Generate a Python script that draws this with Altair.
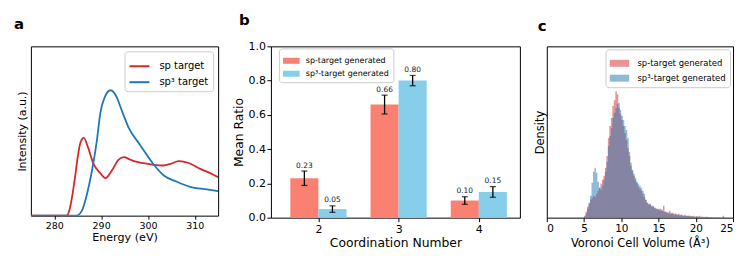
import altair as alt
import numpy as np
import pandas as pd

FONT = "DejaVu Sans"
RED = "#d62728"
BLUE = "#1f77b4"
SALMON = "#fa8072"
SKY = "#87ceeb"
RECT = "M-1,-0.36L1,-0.36L1,0.36L-1,0.36Z"

# ---------------- panel a: spectra ----------------
series_a = ["sp target", "sp³ target"]
red_energy = [275, 282.6, 283.2, 283.8, 284.4, 284.9, 285.6, 286.3, 287.2, 288.4, 289.8,
              290.9, 292.3, 293.7, 294.9, 296.0, 297.0, 299.1, 301.2, 303.4, 304.8, 306.6,
              308.7, 311.2, 313.3, 315]
red_intensity = [0, 0, 0.04, 0.15, 0.30, 0.44, 0.585, 0.62, 0.545, 0.41, 0.34,
                 0.30, 0.36, 0.445, 0.466, 0.45, 0.435, 0.418, 0.405, 0.40, 0.413, 0.434,
                 0.42, 0.373, 0.339, 0.307]
blue_energy = [275, 284.7, 285.9, 287.0, 288.05, 289.1, 289.8, 290.9, 292.0, 293.4, 294.2,
               295.9, 298.4, 301.2, 303.4, 306.2, 309.0, 312.6, 315]
blue_intensity = [0, 0, 0.04, 0.175, 0.36, 0.60, 0.81, 0.955, 1.0, 0.94, 0.86,
                  0.70, 0.56, 0.41, 0.32, 0.27, 0.23, 0.21, 0.196]

# ---------------- panel b: coordination ----------------
series_b = ["sp-target generated", "sp³-target generated"]
coord = [2, 3, 4]
sp_mean = [0.23, 0.66, 0.10]
sp_err = [0.042, 0.055, 0.022]
sp3_mean = [0.05, 0.80, 0.15]
sp3_err = [0.019, 0.030, 0.031]

# ---------------- panel c: Voronoi histogram ----------------
series_c = ["sp-target generated", "sp³-target generated"]
bin_start = 4.8
bin_width = 0.2
sp_hist = [0, 2, 6, 11, 15, 18, 20, 22, 21, 24, 27, 30, 34, 38, 42, 50, 62, 80, 92, 100,
           112, 118, 127, 124, 110, 104, 98, 92, 85, 78, 70, 62, 52, 47, 42, 38, 35, 31, 29, 27,
           24, 21, 18, 15, 14, 13, 12, 11, 10, 9, 9, 8, 9, 7, 12, 6, 6, 5, 7, 4,
           5, 4, 4, 3, 4, 3, 3, 2, 3, 2, 2, 2, 2, 1.5, 2, 1, 1.5, 1, 2, 1,
           1, 0.5, 1, 0.5, 0.5, 0.5, 0.5, 0, 0.5, 0, 0.5, 0, 0, 0, 0.5, 0]
sp3_hist = [0, 1, 4, 9, 14, 22, 35, 46, 50, 45, 36, 30, 28, 32, 38, 46, 56, 72, 82, 90,
            100, 105, 110, 114, 115, 108, 102, 98, 92, 88, 80, 66, 55, 48, 44, 40, 36, 34, 32, 30,
            27, 24, 18, 15, 13, 14, 11, 12, 10, 9, 8, 9, 7, 8, 6, 6, 5, 5, 4, 5,
            4, 3, 4, 3, 3, 2, 3, 2, 2, 2, 1.5, 2, 1, 1.5, 1, 1, 1.5, 1, 1, 0.5,
            1, 0.5, 0.5, 1, 0.5, 0.5, 0, 0.5, 0, 0.5, 0, 0.5, 0, 0.5, 2, 0.5]

# ---------- build tables ----------
df_a = pd.concat([
    pd.DataFrame({"energy": red_energy, "intensity": red_intensity, "series": series_a[0]}),
    pd.DataFrame({"energy": blue_energy, "intensity": blue_intensity, "series": series_a[1]}),
], ignore_index=True)

BAR_W = 0.35
rows_b = []
for name, means, errs, side in ((series_b[0], sp_mean, sp_err, -1), (series_b[1], sp3_mean, sp3_err, 1)):
    for c, m, e in zip(coord, means, errs):
        center = c + side * BAR_W / 2
        rows_b.append({"series": name, "center": center, "left": center - BAR_W / 2,
                       "right": center + BAR_W / 2, "mean": m, "base": 0.0,
                       "lo": m - e, "hi": m + e, "label": f"{m:.2f}"})
df_b = pd.DataFrame(rows_b)

edges = np.round(bin_start + bin_width * np.arange(len(sp_hist) + 1), 2)
rows_c = []
for name, h in ((series_c[0], sp_hist), (series_c[1], sp3_hist)):
    for e, v in zip(edges, list(h) + [0]):
        rows_c.append({"volume": float(e), "density": v, "series": name})
df_c = pd.DataFrame(rows_c)


def panel_title(letter, dx, offset):
    return alt.TitleParams(letter, anchor="start", frame="group", fontSize=15,
                           fontWeight="bold", font=FONT, dx=dx, offset=offset, color="black")


legend_box = dict(title=None, strokeColor="#cccccc", fillColor="white", cornerRadius=3,
                  labelFont=FONT, labelColor="black")

# ---------- panel a ----------
chart_a = alt.Chart(df_a).mark_line(interpolate="monotone", strokeWidth=1.8, clip=True).encode(
    x=alt.X("energy:Q", scale=alt.Scale(domain=[275, 315], nice=False, zero=False),
            axis=alt.Axis(values=[280, 290, 300, 310], format="d", title="Energy (eV)",
                          labelFontSize=9.5, titleFontSize=11.2, tickSize=3.5, labelPadding=1,
                          titlePadding=2, labelOverlap=False)),
    y=alt.Y("intensity:Q", scale=alt.Scale(domain=[0, 1.35], nice=False),
            axis=alt.Axis(title="Intensity (a.u.)", labels=False, ticks=False,
                          titleFontSize=11, titlePadding=3.5)),
    color=alt.Color("series:N", sort=series_a,
                    scale=alt.Scale(domain=series_a, range=[RED, BLUE]),
                    legend=alt.Legend(orient="top-right", offset=5, symbolType="stroke",
                                      symbolSize=400, symbolStrokeWidth=2, labelFontSize=10,
                                      padding=4, rowPadding=-3, labelOffset=9, **legend_box)),
).properties(width=188, height=170, title=panel_title("a", -17, 14))

# ---------- panel b ----------
xb_scale = alt.Scale(domain=[1.47, 4.45], nice=False, zero=False)
xb_axis = alt.Axis(values=[2, 3, 4], format="d", title="Coordination Number", labelFontSize=11,
                   titleFontSize=12.4, tickSize=4, labelPadding=2, titlePadding=2,
                   labelOverlap=False)
yb_scale = alt.Scale(domain=[0, 1], nice=False)
yb_axis = alt.Axis(values=[0, 0.2, 0.4, 0.6, 0.8, 1.0], format=".1f", title="Mean Ratio",
                   labelFontSize=11, titleFontSize=12.4, tickSize=4, labelPadding=1.5,
                   titlePadding=2.5, labelOverlap=False)

bars = alt.Chart(df_b).mark_bar(orient="vertical").encode(
    x=alt.X("left:Q", scale=xb_scale, axis=xb_axis), x2="right:Q",
    y=alt.Y("mean:Q", scale=yb_scale, axis=yb_axis), y2="base:Q",
    color=alt.Color("series:N", sort=series_b,
                    scale=alt.Scale(domain=series_b, range=[SALMON, SKY]),
                    legend=alt.Legend(orient="none", legendX=8, legendY=2, symbolType=RECT,
                                      symbolSize=280, symbolStrokeWidth=0, labelFontSize=8,
                                      padding=4, rowPadding=-4, labelOffset=6, **legend_box)),
)
err = alt.Chart(df_b).mark_rule(color="black", strokeWidth=1.3).encode(
    x=alt.X("center:Q", scale=xb_scale, axis=xb_axis),
    y=alt.Y("lo:Q", scale=yb_scale, axis=yb_axis), y2="hi:Q")
cap_lo = alt.Chart(df_b).mark_tick(color="black", orient="horizontal", size=6, thickness=1.3).encode(
    x=alt.X("center:Q", scale=xb_scale, axis=xb_axis),
    y=alt.Y("lo:Q", scale=yb_scale, axis=yb_axis))
cap_hi = alt.Chart(df_b).mark_tick(color="black", orient="horizontal", size=6, thickness=1.3).encode(
    x=alt.X("center:Q", scale=xb_scale, axis=xb_axis),
    y=alt.Y("hi:Q", scale=yb_scale, axis=yb_axis))
labels_b = alt.Chart(df_b).mark_text(baseline="bottom", dy=-1.5, fontSize=7.5, font=FONT,
                                     color="#222222").encode(
    x=alt.X("center:Q", scale=xb_scale, axis=xb_axis),
    y=alt.Y("hi:Q", scale=yb_scale, axis=yb_axis), text="label:N")
chart_b = alt.layer(bars, err, cap_lo, cap_hi, labels_b).properties(
    width=250, height=172, title=panel_title("b", -32, 12))

# ---------- panel c ----------
def hist_layer(name):
    return alt.Chart(df_c).transform_filter(alt.datum.series == name).mark_area(
        interpolate="step-after", opacity=0.5).encode(
        x=alt.X("volume:Q", scale=alt.Scale(domain=[0, 25], nice=False),
                axis=alt.Axis(values=[0, 5, 10, 15, 20, 25], format="d",
                              title="Voronoi Cell Volume (Å³)", labelFontSize=10.5,
                              titleFontSize=11.5, tickSize=4, labelPadding=2, titlePadding=3,
                              labelOverlap=False)),
        y=alt.Y("density:Q", stack=None, scale=alt.Scale(domain=[0, 172], nice=False),
                axis=alt.Axis(title="Density", labels=False, ticks=False, titleFontSize=11.5,
                              titlePadding=1)),
        color=alt.Color("series:N", sort=series_c,
                        scale=alt.Scale(domain=series_c, range=[RED, BLUE]),
                        legend=alt.Legend(orient="top-right", offset=3, symbolType=RECT,
                                          symbolSize=380, symbolStrokeWidth=0, symbolOpacity=0.5,
                                          labelFontSize=8.5, padding=4, rowPadding=-3,
                                          labelOffset=8, **legend_box)),
    )

chart_c = alt.layer(hist_layer(series_c[0]), hist_layer(series_c[1])).properties(
    width=187, height=172, title=panel_title("c", -9, 12))

chart = alt.hconcat(chart_a, chart_b, chart_c, spacing=13).resolve_scale(color="independent").properties(
    padding={"left": 5, "top": 4, "right": 5, "bottom": 5}
).configure_view(stroke="black", strokeWidth=1).configure_axis(
    labelFont=FONT, titleFont=FONT, labelColor="black", titleColor="black", tickColor="black",
    domain=False, grid=False, titleFontWeight="normal", tickWidth=1
).configure_legend(labelFont=FONT)

chart.save("out.html", embed_options={"renderer": "svg", "actions": False})
